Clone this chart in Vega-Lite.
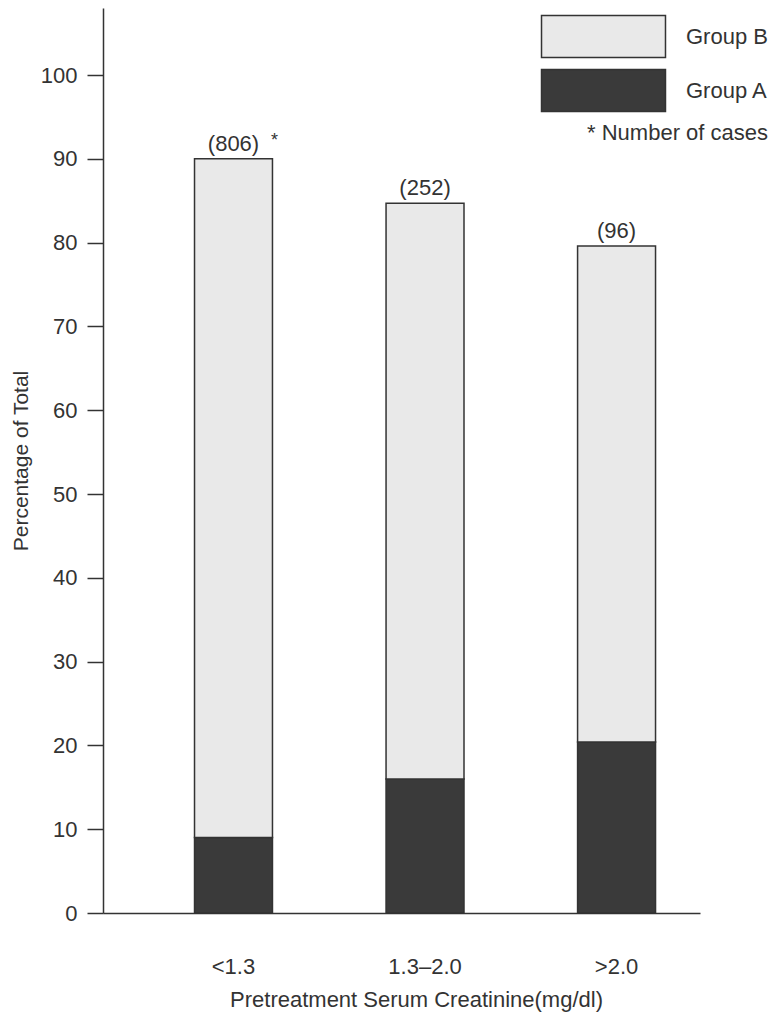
{
  "$schema": "https://vega.github.io/schema/vega-lite/v6.json",
  "autosize": "none",
  "width": 597,
  "height": 905,
  "padding": {"left": 103, "top": 8, "right": 78, "bottom": 103},
  "background": "white",
  "config": {
    "font": "Liberation Sans",
    "view": {"stroke": null},
    "axis": {"labelColor": "#333", "titleColor": "#333", "domainColor": "#333", "tickColor": "#333", "domainWidth": 1.5, "tickWidth": 1.5, "titleFontWeight": "normal", "grid": false}
  },
  "data": {
    "values": [
      {"cat": "<1.3", "group": "Group A", "value": 9.0, "label": "(806)", "note": "*"},
      {"cat": "<1.3", "group": "Group B", "value": 81.0, "label": "(806)", "note": "*"},
      {"cat": "1.3–2.0", "group": "Group A", "value": 16.0, "label": "(252)", "note": ""},
      {"cat": "1.3–2.0", "group": "Group B", "value": 68.7, "label": "(252)", "note": ""},
      {"cat": ">2.0", "group": "Group A", "value": 20.4, "label": "(96)", "note": ""},
      {"cat": ">2.0", "group": "Group B", "value": 59.2, "label": "(96)", "note": ""}
    ]
  },
  "encoding": {
    "x": {
      "field": "cat", "type": "nominal", "sort": ["<1.3", "1.3–2.0", ">2.0"],
      "scale": {"paddingInner": 0.593, "paddingOuter": 0.355, "align": 0.673},
      "axis": {"title": "Pretreatment Serum Creatinine(mg/dl)", "labelAngle": 0, "ticks": false, "labelFontSize": 22, "labelPadding": 43, "titleFontSize": 22, "titlePadding": 12, "titleX": 313}
    }
  },
  "layer": [
    {
      "mark": {"type": "bar", "stroke": "#333", "strokeWidth": 1.5},
      "encoding": {
        "y": {
          "field": "value", "type": "quantitative", "stack": "zero",
          "scale": {"domain": [0, 108], "nice": false},
          "axis": {"title": "Percentage of Total", "values": [0, 10, 20, 30, 40, 50, 60, 70, 80, 90, 100], "tickSize": 16, "labelFontSize": 22, "labelPadding": 10, "titleFontSize": 21, "titlePadding": 9}
        },
        "color": {
          "field": "group", "type": "nominal",
          "scale": {"domain": ["Group B", "Group A"], "range": ["#e9e9e9", "#3a3a3a"]},
          "legend": {"orient": "none", "legendX": 479, "legendY": 7, "title": "* Number of cases", "titleOrient": "bottom", "titleAnchor": "end", "titlePadding": 8, "titleLimit": 400, "titleFontSize": 22, "titleFontWeight": "normal", "titleColor": "#333", "labelFontSize": 22, "labelColor": "#333", "labelOffset": 61, "labelLimit": 300, "symbolType": "M-3,-1.017 L3,-1.017 L3,1.017 L-3,1.017 Z", "symbolSize": 1708, "symbolStrokeColor": "#333", "symbolStrokeWidth": 1.5, "symbolOpacity": 1, "rowPadding": 5, "padding": 0}
        },
        "order": {"field": "group", "sort": "ascending"}
      }
    },
    {
      "transform": [{"aggregate": [{"op": "sum", "field": "value", "as": "total"}], "groupby": ["cat", "label", "note"]}],
      "mark": {"type": "text", "baseline": "bottom", "dy": -3, "fontSize": 22, "color": "#333"},
      "encoding": {
        "y": {"field": "total", "type": "quantitative"},
        "text": {"field": "label"}
      }
    },
    {
      "transform": [{"aggregate": [{"op": "sum", "field": "value", "as": "total"}], "groupby": ["cat", "label", "note"]}],
      "mark": {"type": "text", "baseline": "bottom", "dx": 41, "dy": -9, "fontSize": 18, "color": "#333"},
      "encoding": {
        "y": {"field": "total", "type": "quantitative"},
        "text": {"field": "note"}
      }
    }
  ]
}
